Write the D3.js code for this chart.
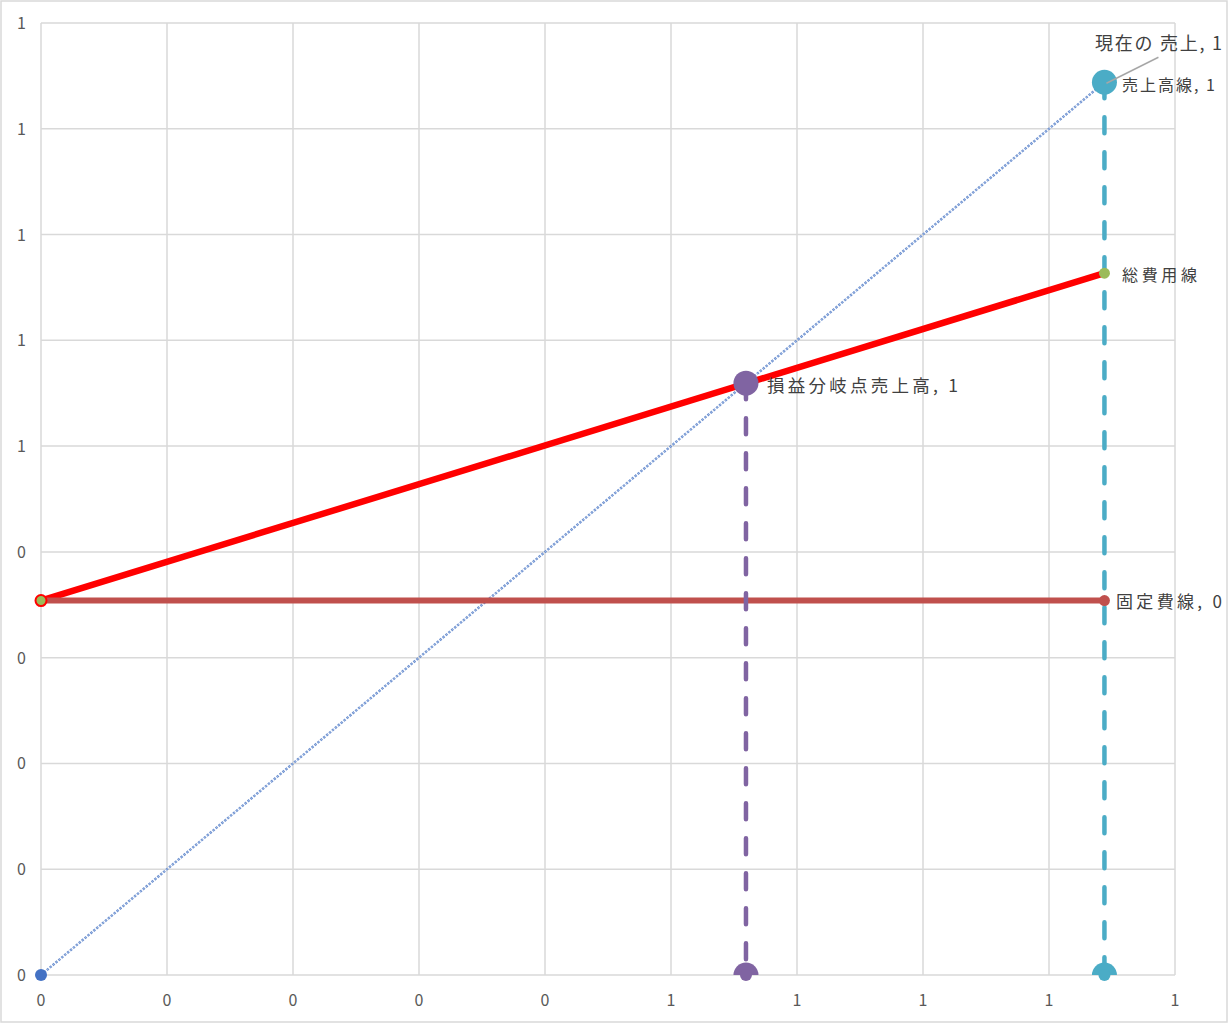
<!DOCTYPE html>
<html><head><meta charset="utf-8">
<script src="https://cdn.jsdelivr.net/npm/d3@7"></script>
<style>html,body{margin:0;padding:0;background:#fff;}svg{display:block;}</style>
</head><body>
<svg id="c" width="1230" height="1025"></svg>
<script>
// ---- data ----
const xTickValues = [0,0.1,0.2,0.3,0.4,0.5,0.6,0.7,0.8,0.9];
const xTickLabels = ["0","0","0","0","0","1","1","1","1","1"];
const yTickValues = [0,0.1,0.2,0.3,0.4,0.5,0.6,0.7,0.8,0.9];
const yTickLabels = ["0","0","0","0","0","1","1","1","1","1"];
const currentSales = 0.844;     // 現在の売上
const fixedCost = 0.354;        // 固定費
const totalCostAtSales = 0.6635; // 総費用 at current sales
const breakEvenSales = 0.5595;  // 損益分岐点売上高
const salesLine = [[0,0],[currentSales,currentSales]];
const totalCostLine = [[0,fixedCost],[currentSales,totalCostAtSales]];
const fixedCostLine = [[0,fixedCost],[currentSales,fixedCost]];
const bepLine = [[breakEvenSales,breakEvenSales],[breakEvenSales,0]];
const currentLine = [[currentSales,currentSales],[currentSales,0]];

const svg = d3.select("#c");
const L=41,R=1175,T=23,B=975;
const x = d3.scaleLinear().domain([0,0.9]).range([L,R]);
const y = d3.scaleLinear().domain([0,0.9]).range([B,T]);
const grid="#D9D9D9";
const font = "'Noto Sans CJK JP','Noto Sans',sans-serif";

svg.append("rect").attr("x",1).attr("y",1).attr("width",1226).attr("height",1021)
  .attr("fill","#fff").attr("stroke",grid).attr("stroke-width",1.5);

svg.append("defs").append("clipPath").attr("id","pa").append("rect")
  .attr("x",L-20).attr("y",T-20).attr("width",R-L+40).attr("height",B-T+20);

// gridlines
svg.append("g").selectAll("line").data(xTickValues).join("line")
  .attr("x1",d=>x(d)).attr("x2",d=>x(d)).attr("y1",T).attr("y2",B)
  .attr("stroke",grid).attr("stroke-width",1.5);
svg.append("g").selectAll("line").data(yTickValues).join("line")
  .attr("x1",L).attr("x2",R).attr("y1",d=>y(d)).attr("y2",d=>y(d))
  .attr("stroke",grid).attr("stroke-width",1.5);

// tick labels
svg.append("g").selectAll("text").data(xTickValues).join("text")
  .attr("x",d=>x(d)).attr("y",B+31).attr("text-anchor","middle")
  .attr("font-family",font).attr("font-size",16).attr("fill","#595959")
  .text((d,i)=>xTickLabels[i]);
svg.append("g").selectAll("text").data(yTickValues).join("text")
  .attr("x",26).attr("y",d=>y(d)+6).attr("text-anchor","end")
  .attr("font-family",font).attr("font-size",16).attr("fill","#595959")
  .text((d,i)=>yTickLabels[i]);

const line = d3.line().x(d=>x(d[0])).y(d=>y(d[1]));

// sales line (dotted)
svg.append("path").attr("d",line(salesLine)).attr("fill","none")
  .attr("stroke","#6A8FD0").attr("stroke-width",2.4).attr("stroke-dasharray","2.4,1.4");
svg.append("path").attr("d",line(salesLine)).attr("fill","none")
  .attr("stroke","#fff").attr("stroke-width",0.6).attr("stroke-dasharray","2.4,1.4").attr("opacity",0.6);
// total cost line
svg.append("path").attr("d",line(totalCostLine)).attr("fill","none")
  .attr("stroke","#FF0000").attr("stroke-width",6.5);
// fixed cost line
svg.append("path").attr("d",line(fixedCostLine)).attr("fill","none")
  .attr("stroke","#C0504D").attr("stroke-width",6);
// BEP vertical
svg.append("path").attr("d",line(bepLine)).attr("fill","none")
  .attr("stroke","#8064A2").attr("stroke-width",4.5).attr("stroke-linecap","round")
  .attr("stroke-dasharray","16,19");
// current sales vertical
svg.append("path").attr("d",line(currentLine)).attr("fill","none")
  .attr("stroke","#4BACC6").attr("stroke-width",4.5).attr("stroke-linecap","round")
  .attr("stroke-dasharray","16,19");

// markers
const mk = svg.append("g").attr("clip-path","url(#pa)");
// bottom bumps below axis
[[breakEvenSales,"#8064A2"],[currentSales,"#4BACC6"]].forEach(([v,c])=>{
  svg.append("circle").attr("cx",x(v)).attr("cy",y(0)).attr("r",6).attr("fill",c);
  mk.append("circle").attr("cx",x(v)).attr("cy",y(0)).attr("r",12.5).attr("fill",c);
});
svg.append("circle").attr("cx",x(salesLine[0][0])).attr("cy",y(salesLine[0][1])).attr("r",6).attr("fill","#4472C4");
mk.append("circle").attr("cx",x(totalCostLine[0][0])).attr("cy",y(totalCostLine[0][1])).attr("r",5.5)
  .attr("fill","#9BBB59").attr("stroke","#FF0000").attr("stroke-width",2);
mk.append("circle").attr("cx",x(fixedCostLine[1][0])).attr("cy",y(fixedCostLine[1][1])).attr("r",5.5).attr("fill","#C0504D");
mk.append("circle").attr("cx",x(totalCostLine[1][0])).attr("cy",y(totalCostLine[1][1])).attr("r",5.5).attr("fill","#9BBB59");
mk.append("circle").attr("cx",x(breakEvenSales)).attr("cy",y(breakEvenSales)).attr("r",12.5).attr("fill","#8064A2");
mk.append("circle").attr("cx",x(currentSales)).attr("cy",y(currentSales)).attr("r",12.5).attr("fill","#4BACC6");

// leader line
const sx=x(currentSales), sy=y(currentSales);
svg.append("line").attr("x1",sx+2).attr("y1",sy+1).attr("x2",sx+54).attr("y2",sy-25)
  .attr("stroke","#A6A6A6").attr("stroke-width",1.5);

function lbl(tx,ty,txt,size,len){
  svg.append("text").attr("x",tx).attr("y",ty).attr("font-family",font)
    .attr("font-size",size).attr("fill","#404040").attr("dominant-baseline","central")
    .attr("textLength",len).attr("lengthAdjust","spacing").text(txt);
}
lbl(1095,y(currentSales)-40,"現在の 売上, 1",18,127);
lbl(1122,y(currentSales)+2,"売上高線, 1",16,93);
lbl(1122,y(totalCostAtSales)+1,"総費用線",16,75);
lbl(1116,y(fixedCost),"固定費線, 0",17,106);
lbl(767,y(breakEvenSales)+1,"損益分岐点売上高, 1",17.5,191);
</script>
</body></html>
